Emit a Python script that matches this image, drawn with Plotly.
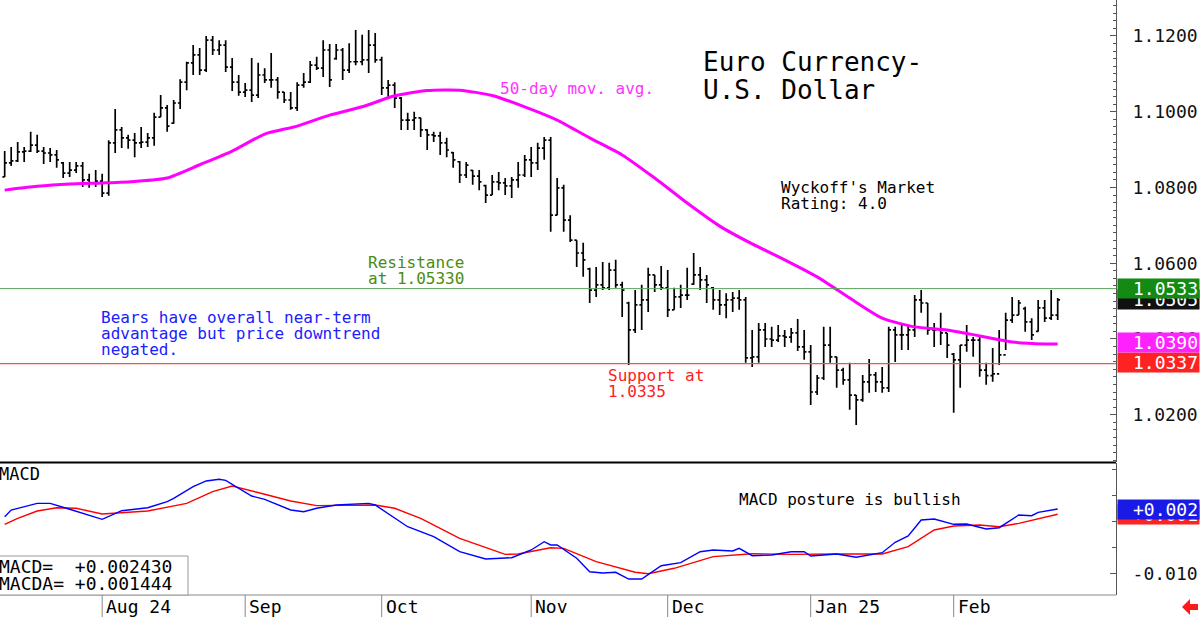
import plotly.graph_objects as go

# ---------------- data ----------------
bar_index = list(range(163))

open_ = [
    1.0828, 1.0865, 1.0870, 1.0894, 1.0896, 1.0912, 1.0896, 1.0891, 1.0886, 1.0865,
    1.0838, 1.0846, 1.0857, 1.0820, 1.0812, 1.0817, 1.0785, 1.0918, 1.0952, 1.0931,
    1.0925, 1.0918, 1.0920, 1.0931, 1.0986, 1.1010, 1.0970, 1.1023, 1.1078, 1.1129,
    1.1150, 1.1110, 1.1189, 1.1163, 1.1176, 1.1118, 1.1078, 1.1052, 1.1057, 1.1044,
    1.1097, 1.1084, 1.1084, 1.1052, 1.1031, 1.1010, 1.1070, 1.1078, 1.1123, 1.1115,
    1.1163, 1.1140, 1.1163, 1.1110, 1.1132, 1.1132, 1.1137, 1.1176, 1.1137, 1.1063,
    1.1070, 1.1036, 1.0978, 1.0978, 1.0984, 1.0952, 1.0939, 1.0936, 1.0918, 1.0892,
    1.0868, 1.0833, 1.0845, 1.0830, 1.0805, 1.0780, 1.0815, 1.0812, 1.0804, 1.0820,
    1.0833, 1.0873, 1.0865, 1.0904, 1.0925, 1.0727, 1.0799, 1.0714, 1.0661, 1.0627,
    1.0585, 1.0529, 1.0543, 1.0535, 1.0582, 1.0543, 1.0495, 1.0424, 1.0490, 1.0503,
    1.0569, 1.0543, 1.0535, 1.0477, 1.0511, 1.0516, 1.0545, 1.0569, 1.0556, 1.0535,
    1.0503, 1.0490, 1.0503, 1.0508, 1.0503, 1.0350, 1.0353, 1.0424, 1.0400, 1.0397,
    1.0408, 1.0405, 1.0416, 1.0379, 1.0366, 1.0260, 1.0297, 1.0384, 1.0353, 1.0318,
    1.0292, 1.0252, 1.0239, 1.0287, 1.0305, 1.0287, 1.0271, 1.0424, 1.0411, 1.0411,
    1.0424, 1.0503, 1.0495, 1.0424, 1.0424, 1.0416, 1.0360, 1.0345, 1.0384, 1.0397,
    1.0397, 1.0318, 1.0303, 1.0308, 1.0358, 1.0450, 1.0463, 1.0480, 1.0445, 1.0420,
    1.0482, 1.0455, 1.0463,
]
high = [
    1.0896, 1.0907, 1.0920, 1.0907, 1.0947, 1.0939, 1.0907, 1.0904, 1.0899, 1.0867,
    1.0867, 1.0867, 1.0867, 1.0836, 1.0846, 1.0836, 1.0925, 1.1007, 1.0960, 1.0939,
    1.0944, 1.0960, 1.0944, 1.0997, 1.1044, 1.1018, 1.1031, 1.1086, 1.1132, 1.1176,
    1.1168, 1.1200, 1.1200, 1.1189, 1.1189, 1.1142, 1.1097, 1.1076, 1.1142, 1.1129,
    1.1115, 1.1155, 1.1092, 1.1052, 1.1052, 1.1078, 1.1102, 1.1134, 1.1145, 1.1189,
    1.1179, 1.1179, 1.1168, 1.1181, 1.1216, 1.1203, 1.1216, 1.1208, 1.1145, 1.1084,
    1.1078, 1.1039, 1.0997, 1.1000, 1.0984, 1.0954, 1.0947, 1.0947, 1.0931, 1.0894,
    1.0870, 1.0867, 1.0846, 1.0846, 1.0807, 1.0833, 1.0841, 1.0825, 1.0828, 1.0867,
    1.0886, 1.0907, 1.0918, 1.0933, 1.0933, 1.0825, 1.0807, 1.0727, 1.0661, 1.0654,
    1.0588, 1.0590, 1.0603, 1.0601, 1.0609, 1.0551, 1.0498, 1.0529, 1.0543, 1.0588,
    1.0569, 1.0593, 1.0582, 1.0535, 1.0543, 1.0588, 1.0627, 1.0590, 1.0569, 1.0537,
    1.0529, 1.0521, 1.0524, 1.0529, 1.0511, 1.0424, 1.0442, 1.0442, 1.0432, 1.0437,
    1.0424, 1.0429, 1.0453, 1.0424, 1.0384, 1.0305, 1.0432, 1.0432, 1.0353, 1.0324,
    1.0337, 1.0252, 1.0305, 1.0347, 1.0313, 1.0326, 1.0432, 1.0432, 1.0437, 1.0434,
    1.0516, 1.0529, 1.0495, 1.0442, 1.0469, 1.0416, 1.0363, 1.0384, 1.0437, 1.0405,
    1.0405, 1.0337, 1.0376, 1.0424, 1.0469, 1.0511, 1.0503, 1.0485, 1.0455, 1.0503,
    1.0503, 1.0529, 1.0508,
]
low = [
    1.0828, 1.0857, 1.0867, 1.0867, 1.0894, 1.0891, 1.0862, 1.0867, 1.0852, 1.0825,
    1.0828, 1.0838, 1.0801, 1.0799, 1.0801, 1.0775, 1.0778, 1.0891, 1.0904, 1.0902,
    1.0880, 1.0904, 1.0907, 1.0910, 1.0986, 1.0947, 1.0968, 1.1007, 1.1057, 1.1097,
    1.1097, 1.1105, 1.1150, 1.1150, 1.1105, 1.1055, 1.1042, 1.1039, 1.1026, 1.1036,
    1.1076, 1.1063, 1.1034, 1.1023, 1.1005, 1.1002, 1.1063, 1.1076, 1.1110, 1.1092,
    1.1065, 1.1137, 1.1084, 1.1102, 1.1123, 1.1123, 1.1102, 1.1129, 1.1044, 1.1039,
    1.1010, 1.0952, 1.0952, 1.0952, 1.0933, 1.0899, 1.0920, 1.0886, 1.0880, 1.0852,
    1.0812, 1.0825, 1.0807, 1.0793, 1.0759, 1.0780, 1.0793, 1.0780, 1.0772, 1.0799,
    1.0828, 1.0828, 1.0846, 1.0873, 1.0683, 1.0727, 1.0683, 1.0656, 1.0590, 1.0564,
    1.0495, 1.0511, 1.0529, 1.0529, 1.0535, 1.0458, 1.0331, 1.0416, 1.0424, 1.0471,
    1.0524, 1.0529, 1.0458, 1.0477, 1.0482, 1.0503, 1.0543, 1.0529, 1.0495, 1.0477,
    1.0463, 1.0455, 1.0471, 1.0477, 1.0337, 1.0326, 1.0337, 1.0379, 1.0379, 1.0392,
    1.0379, 1.0390, 1.0368, 1.0345, 1.0226, 1.0252, 1.0292, 1.0337, 1.0271, 1.0279,
    1.0213, 1.0173, 1.0234, 1.0258, 1.0260, 1.0258, 1.0260, 1.0339, 1.0371, 1.0371,
    1.0405, 1.0469, 1.0411, 1.0379, 1.0384, 1.0350, 1.0205, 1.0271, 1.0366, 1.0353,
    1.0300, 1.0279, 1.0287, 1.0331, 1.0371, 1.0442, 1.0463, 1.0419, 1.0397, 1.0419,
    1.0445, 1.0450, 1.0450,
]
close = [
    1.0865, 1.0870, 1.0894, 1.0896, 1.0912, 1.0896, 1.0891, 1.0886, 1.0873, 1.0838,
    1.0846, 1.0857, 1.0820, 1.0812, 1.0817, 1.0785, 1.0918, 1.0952, 1.0931, 1.0925,
    1.0918, 1.0920, 1.0931, 1.0986, 1.1010, 1.0962, 1.1023, 1.1078, 1.1129, 1.1150,
    1.1110, 1.1189, 1.1163, 1.1176, 1.1118, 1.1078, 1.1052, 1.1057, 1.1044, 1.1097,
    1.1084, 1.1084, 1.1052, 1.1031, 1.1010, 1.1070, 1.1078, 1.1123, 1.1115, 1.1163,
    1.1084, 1.1163, 1.1110, 1.1132, 1.1132, 1.1137, 1.1176, 1.1137, 1.1063, 1.1070,
    1.1036, 1.0978, 1.0978, 1.0984, 1.0952, 1.0939, 1.0936, 1.0918, 1.0899, 1.0873,
    1.0833, 1.0859, 1.0830, 1.0815, 1.0780, 1.0815, 1.0812, 1.0804, 1.0820, 1.0833,
    1.0873, 1.0865, 1.0904, 1.0925, 1.0727, 1.0799, 1.0714, 1.0661, 1.0627, 1.0609,
    1.0529, 1.0543, 1.0535, 1.0582, 1.0543, 1.0529, 1.0424, 1.0490, 1.0503, 1.0569,
    1.0543, 1.0535, 1.0477, 1.0511, 1.0516, 1.0516, 1.0569, 1.0556, 1.0543, 1.0503,
    1.0490, 1.0503, 1.0508, 1.0503, 1.0350, 1.0353, 1.0424, 1.0400, 1.0397, 1.0408,
    1.0405, 1.0416, 1.0379, 1.0366, 1.0260, 1.0297, 1.0384, 1.0353, 1.0318, 1.0292,
    1.0252, 1.0239, 1.0287, 1.0305, 1.0287, 1.0271, 1.0424, 1.0411, 1.0411, 1.0424,
    1.0503, 1.0495, 1.0424, 1.0424, 1.0416, 1.0384, 1.0345, 1.0384, 1.0397, 1.0397,
    1.0318, 1.0303, 1.0308, 1.0358, 1.0450, 1.0463, 1.0495, 1.0445, 1.0411, 1.0482,
    1.0455, 1.0463, 1.0503,
]

# 50-day moving average (sampled)
ma_idx = [0, 5, 10, 15, 20, 25, 30, 35, 40, 45, 50, 55, 60, 65, 70, 75, 80, 85, 90, 95,
          100, 105, 110, 115, 120, 125, 130, 135, 140, 145, 150, 155, 160, 162]
ma_val = [1.0793, 1.0803, 1.0809, 1.0812, 1.0816, 1.0825, 1.0860, 1.0896, 1.0941, 1.0962,
          1.0991, 1.1013, 1.1042, 1.1056, 1.1057, 1.1043, 1.1013, 1.0978, 1.0931, 1.0886,
          1.0825, 1.0759, 1.0698, 1.0651, 1.0609, 1.0564, 1.0508, 1.0455, 1.0432, 1.0424,
          1.0408, 1.0392, 1.0387, 1.0387]

# MACD (blue) and MACD average (red), sampled
macd_idx = [0, 1, 5, 7, 10, 15, 18, 22, 25, 26, 29, 31, 33, 34, 38, 40, 44, 46, 48, 51,
            56, 57, 62, 66, 70, 74, 78, 81, 83, 84, 85, 88, 90, 92, 94, 96, 98, 101, 104,
            107, 109, 112, 113, 115, 118, 121, 123, 124, 126, 128, 131, 135, 137, 139,
            141, 143, 146, 148, 151, 153, 156, 158, 159, 162]
macd_val = [0.00096, 0.00224, 0.00352, 0.00352, 0.00238, 0.00046, 0.00211, 0.00268,
            0.00383, 0.00448, 0.00670, 0.00780, 0.00812, 0.00793, 0.00492, 0.00429,
            0.00224, 0.00192, 0.00257, 0.00320, 0.00352, 0.00320, -0.00096, -0.00287,
            -0.00575, -0.00715, -0.00690, -0.00542, -0.00383, -0.00446, -0.00446,
            -0.00701, -0.00958, -0.00983, -0.00969, -0.01098, -0.01098, -0.00843,
            -0.00785, -0.00575, -0.00542, -0.00561, -0.00510, -0.00651, -0.00638,
            -0.00575, -0.00575, -0.00657, -0.00638, -0.00619, -0.00682, -0.00594,
            -0.00395, -0.00274, 0.00033, 0.00052, -0.00050, -0.00044, -0.00140,
            -0.00115, 0.00128, 0.00115, 0.00180, 0.00243]
macda_idx = [0, 2, 5, 8, 11, 15, 22, 28, 32, 35, 40, 44, 48, 52, 57, 60, 64, 70, 77, 79,
             84, 86, 91, 97, 99, 103, 109, 115, 121, 128, 135, 139, 143, 146, 150, 153,
             156, 162]
macda_val = [-0.00050, 0.00065, 0.00205, 0.00268, 0.00257, 0.00148, 0.00205, 0.00352,
             0.00575, 0.00684, 0.00525, 0.00397, 0.00307, 0.00307, 0.00320, 0.00257,
             0.00065, -0.00318, -0.00625, -0.00619, -0.00498, -0.00510, -0.00766,
             -0.00969, -0.00996, -0.00893, -0.00670, -0.00613, -0.00625, -0.00619,
             -0.00619, -0.00479, -0.00159, -0.00082, -0.00063, -0.00096, -0.00031,
             0.00142]

month_labels = ["Aug 24", "Sep", "Oct", "Nov", "Dec", "Jan 25", "Feb"]
month_start_idx = [15, 37, 58, 81, 102, 124, 146]

resistance = 1.0533
support = 1.0335
last_close = 1.0505
last_ma = 1.0390
last_macd = 0.002430
last_macda = 0.001444

# ---------------- layout helpers ----------------
W, H = 1200, 617
ML, MR, MT, MB = 0, 84, 0, 22
PW, PH = W - ML - MR, H - MT - MB
FONT = "DejaVu Sans Mono"


def px(x):
    return (x - ML) / PW


def py(y):
    return (H - MB - y) / PH


fig = go.Figure()

fig.add_trace(go.Ohlc(
    x=bar_index, open=open_, high=high, low=low, close=close,
    increasing=dict(line=dict(color="black", width=1.7)),
    decreasing=dict(line=dict(color="black", width=1.7)),
    tickwidth=0.35, xaxis="x", yaxis="y", showlegend=False, hoverinfo="skip"))

fig.add_trace(go.Scatter(
    x=ma_idx, y=ma_val, mode="lines", line=dict(color="#ff00ff", width=3, shape="spline",
                                                smoothing=0.6),
    xaxis="x", yaxis="y", showlegend=False, hoverinfo="skip"))

fig.add_trace(go.Scatter(
    x=macda_idx, y=macda_val, mode="lines", line=dict(color="#ff0000", width=1.4),
    xaxis="x2", yaxis="y2", showlegend=False, hoverinfo="skip"))
fig.add_trace(go.Scatter(
    x=macd_idx, y=macd_val, mode="lines", line=dict(color="#0000ff", width=1.4),
    xaxis="x2", yaxis="y2", showlegend=False, hoverinfo="skip"))

xr = [-0.72, 170.97]
price_dom = [py(462), 1.0]
macd_dom = [0.0, py(463)]

fig.update_layout(
    width=W, height=H, margin=dict(l=ML, r=MR, t=MT, b=MB),
    paper_bgcolor="white", plot_bgcolor="white", showlegend=False,
    xaxis=dict(domain=[0, 1], range=xr, visible=False, anchor="y",
               rangeslider=dict(visible=False), fixedrange=True),
    xaxis2=dict(domain=[0, 1], range=xr, visible=False, anchor="y2", matches="x"),
    yaxis=dict(domain=price_dom, range=[1.00752, 1.1295], side="right", anchor="x",
               tickmode="linear", tick0=1.02, dtick=0.02, tickformat=".4f",
               ticks="inside", ticklen=6, tickcolor="#555", showline=True,
               linecolor="#555", linewidth=1, showgrid=False, zeroline=False,
               ticklabelstandoff=12,
               minor=dict(tickmode="linear", tick0=1.0, dtick=0.002, ticks="inside",
                          ticklen=3, tickcolor="#555", showgrid=False),
               tickfont=dict(family=FONT, size=18, color="#111")),
    yaxis2=dict(domain=macd_dom, range=[-0.014042, 0.011245], side="right", anchor="x2",
                tickmode="array", tickvals=[-0.010], ticktext=["-0.010"],
                ticks="inside", ticklen=6, tickcolor="#555", showline=True,
                linecolor="#555", linewidth=1, showgrid=False, zeroline=False,
                ticklabelstandoff=12,
                minor=dict(tickmode="linear", tick0=0.0, dtick=0.005, ticks="inside",
                           ticklen=4, tickcolor="#555", showgrid=False),
                tickfont=dict(family=FONT, size=18, color="#111")),
)

shapes = []
# resistance / support lines
shapes.append(dict(type="line", xref="paper", yref="y", x0=0, x1=1, y0=resistance,
                   y1=resistance, line=dict(color="#5aa55a", width=1)))
shapes.append(dict(type="line", xref="paper", yref="y", x0=0, x1=1, y0=support,
                   y1=support, line=dict(color="#ff4d4d", width=1.2)))
# panel separator
shapes.append(dict(type="line", xref="paper", yref="paper", x0=0, x1=1, y0=py(462.5),
                   y1=py(462.5), line=dict(color="black", width=2)))
# bottom axis line
shapes.append(dict(type="line", xref="paper", yref="paper", x0=0, x1=1, y0=py(595),
                   y1=py(595), line=dict(color="#888", width=1)))
# legend box
shapes.append(dict(type="rect", xref="paper", yref="paper", x0=px(-1), x1=px(188),
                   y0=py(595), y1=py(556), line=dict(color="#999", width=1),
                   fillcolor="white", layer="above"))
# month separators
for i in month_start_idx:
    shapes.append(dict(type="line", xref="x", yref="paper", x0=i, x1=i, y0=py(595),
                       y1=py(617), line=dict(color="#888", width=1)))
# red arrow bottom right
ax = [1182, 1190, 1190, 1198, 1198, 1190, 1190]
ay = [607, 599, 604, 604, 610, 610, 615]
path = "M " + " L ".join(f"{px(a)},{py(b)}" for a, b in zip(ax, ay)) + " Z"
shapes.append(dict(type="path", xref="paper", yref="paper", path=path,
                   fillcolor="#ff1a1a", line=dict(color="#ff1a1a", width=0)))
fig.update_layout(shapes=shapes)

ann = []


def text(x, y, s, size=16, color="black"):
    ann.append(dict(xref="paper", yref="paper", x=px(x), y=py(y), text=s,
                    showarrow=False, xanchor="left", yanchor="middle",
                    font=dict(family=FONT, size=size, color=color)))


text(701, 62, "Euro Currency-", 26)
text(701, 90, "U.S. Dollar", 26)
text(498, 88, "50-day mov. avg.", 16, "#ff33ff")
text(779, 187, "Wyckoff's Market", 16)
text(779, 203, "Rating: 4.0", 16)
text(366, 262, "Resistance", 16, "#4a8c10")
text(366, 278, "at 1.05330", 16, "#4a8c10")
for k, line in enumerate(["Bears have overall near-term",
                          "advantage but price downtrend", "negated."]):
    text(99, 317 + 16 * k, line, 16, "#2020ff")
text(606, 375, "Support at", 16, "#ff2020")
text(606, 391, "1.0335", 16, "#ff2020")
text(-3, 474, "MACD", 17)
text(737, 499, "MACD posture is bullish", 16)
text(-3, 566, "MACD=  +0.002430", 18)
text(-3, 583, "MACDA= +0.001444", 18)

for lab, i in zip(month_labels, month_start_idx):
    ann.append(dict(xref="x", yref="paper", x=i, y=py(606), xshift=2, text=lab,
                    showarrow=False, xanchor="left", yanchor="middle",
                    font=dict(family=FONT, size=18, color="black")))


def box(yref, val, s, color):
    ann.append(dict(xref="paper", yref=yref, x=1, y=val, xshift=1, text=s,
                    showarrow=False, xanchor="left", yanchor="middle", align="right",
                    width=79, height=17, borderpad=1, bgcolor=color,
                    font=dict(family=FONT, size=18, color="white")))


box("y", last_close, f"{last_close:.4f}", "#111111")
box("y", resistance, f"{resistance:.4f}", "#138a13")
box("y", support + 0.0002, f"{support + 0.0002:.4f}", "#ff2222")
box("y", last_ma, f"{last_ma:.4f}", "#ff22ff")
box("y2", last_macda, f"{last_macda:+.3f}", "#ff2222")
box("y2", last_macd, f"{last_macd:+.3f}", "#1a1ae6")

fig.update_layout(annotations=ann)
fig.write_html("out.html")
